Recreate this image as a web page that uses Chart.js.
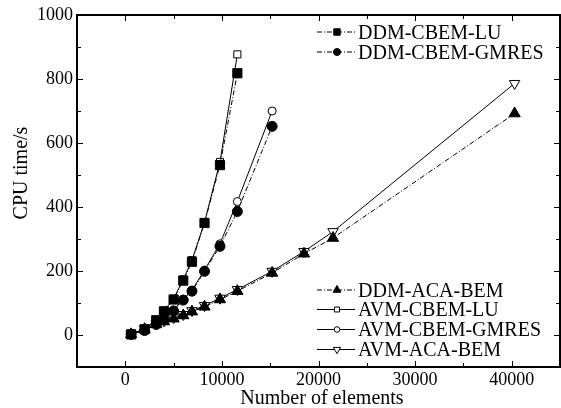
<!DOCTYPE html>
<html>
<head>
<meta charset="utf-8">
<script src="https://cdn.jsdelivr.net/npm/chart.js@4.4.1/dist/chart.umd.min.js"></script>
<style>
  html, body { margin: 0; padding: 0; background: #fff; }
</style>
</head>
<body>
<canvas id="cpuChart" width="561" height="408"></canvas>
<script>
// Number of elements (x) shared by all series
const elements = [600, 2000, 3200, 4000, 5000, 6000, 6900, 8200, 9800, 11600, 15200, 18500, 21500, 40300];

// CPU time in seconds
const ddmCbemLu    = [2, 18, 46, 74, 111, 170, 229, 350, 531, 818];
const ddmCbemGmres = [2, 14, 33, 50, 75, 109, 137, 199, 277, 386, 652];
const ddmAcaBem    = [2, 18, 33, 42, 51, 61, 73, 88, 111, 137, 194, 254, 303, 692];
const avmCbemLu    = [3, 19, 48, 76, 113, 174, 234, 352, 541, 877];
const avmCbemGmres = [2, 15, 35, 52, 78, 112, 140, 203, 285, 417, 700];
const avmAcaBem    = [3, 19, 35, 44, 54, 64, 76, 92, 115, 142, 199, 261, 323, 786];

const xTicks = [0, 10000, 20000, 30000, 40000];
const yTicks = [0, 200, 400, 600, 800, 1000];

const FONT = 'Liberation Serif, Times New Roman, serif';
const dashDot = [5, 2, 1, 2];

function toPoints(values) {
    return values.map((v, i) => ({ x: elements[i], y: v }));
}

function series(label, values, style) {
    return Object.assign({
        label: label,
        data: toPoints(values),
        showLine: true,
        borderColor: '#000',
        borderWidth: 1,
        pointBorderColor: '#000',
        pointBorderWidth: 1,
    }, style);
}

const datasets = [
    series('DDM-CBEM-LU', ddmCbemLu, { borderDash: dashDot, pointStyle: 'rect', pointRadius: 6.5, pointBackgroundColor: '#000' }),
    series('DDM-CBEM-GMRES', ddmCbemGmres, { borderDash: dashDot, pointStyle: 'circle', pointRadius: 5, pointBackgroundColor: '#000' }),
    series('DDM-ACA-BEM', ddmAcaBem, { borderDash: dashDot, pointStyle: 'triangle', pointRadius: 6.5, pointBackgroundColor: '#000' }),
    series('AVM-CBEM-LU', avmCbemLu, { pointStyle: 'rect', pointRadius: 5, pointBackgroundColor: '#fff' }),
    series('AVM-CBEM-GMRES', avmCbemGmres, { pointStyle: 'circle', pointRadius: 4, pointBackgroundColor: '#fff' }),
    series('AVM-ACA-BEM', avmAcaBem, { pointStyle: 'triangle', pointRotation: 180, pointRadius: 6, pointBackgroundColor: '#fff' }),
];

// two separate legend boxes, like the original figure
const legendGroups = [
    { x: 317, rows: [[0, 38.5], [1, 58.5]] },
    { x: 317, rows: [[2, 296.5], [3, 316], [4, 336], [5, 356]] },
];

const splitLegend = {
    id: 'splitLegend',
    afterDraw(chart) {
        const ctx = chart.ctx;
        ctx.save();
        ctx.font = '20px ' + FONT;
        ctx.textBaseline = 'alphabetic';
        ctx.textAlign = 'left';
        legendGroups.forEach(group => {
            group.rows.forEach(([idx, base]) => {
                const ds = chart.data.datasets[idx];
                const cy = base - 6.5;
                ctx.strokeStyle = '#000';
                ctx.lineWidth = 1;
                ctx.setLineDash(ds.borderDash || []);
                ctx.beginPath();
                ctx.moveTo(group.x, cy);
                ctx.lineTo(group.x + 38, cy);
                ctx.stroke();
                ctx.setLineDash([]);
                ctx.fillStyle = ds.pointBackgroundColor;
                Chart.helpers.drawPoint(ctx, {
                    pointStyle: ds.pointStyle,
                    rotation: ds.pointRotation || 0,
                    radius: ds.pointRadius * 0.7,
                    borderWidth: 1,
                }, group.x + 20, cy);
                ctx.fillStyle = '#000';
                ctx.fillText(ds.label, group.x + 41, base);
            });
        });

        // axis titles
        ctx.textAlign = 'center';
        ctx.fillText('Number of elements', 322, 404);
        ctx.translate(27, 173);
        ctx.rotate(-Math.PI / 2);
        ctx.fillText('CPU time/s', 0, 0);
        ctx.restore();
    }
};

// closed frame with inward ticks on all four sides
const frameTicks = {
    id: 'frameTicks',
    afterDatasetsDraw(chart) {
        const { ctx, chartArea: a, scales: { x, y } } = chart;
        ctx.save();
        ctx.strokeStyle = '#000';
        ctx.lineWidth = 1;
        ctx.beginPath();
        for (let v = -5000; v <= 45000; v += 5000) {
            const px = Math.round(x.getPixelForValue(v)) + 0.5;
            const len = v % 10000 === 0 ? 6 : 4;
            ctx.moveTo(px, a.bottom); ctx.lineTo(px, a.bottom - len);
            ctx.moveTo(px, a.top); ctx.lineTo(px, a.top + len);
        }
        for (let v = -100; v <= 1000; v += 100) {
            const py = Math.round(y.getPixelForValue(v)) + 0.5;
            const len = v % 200 === 0 ? 6 : 4;
            ctx.moveTo(a.left, py); ctx.lineTo(a.left + len, py);
            ctx.moveTo(a.right, py); ctx.lineTo(a.right - len, py);
        }
        ctx.stroke();
        ctx.lineWidth = 2;
        ctx.strokeRect(a.left, a.top, a.right - a.left, a.bottom - a.top);
        ctx.restore();
    }
};

const ctx = document.getElementById('cpuChart').getContext('2d');
const cpuChart = new Chart(ctx, {
    type: 'scatter',
    data: { datasets: datasets },
    options: {
        responsive: false,
        animation: false,
        events: [],
        layout: { autoPadding: false, padding: { top: 15, right: 1, left: 0, bottom: 0 } },
        plugins: {
            legend: { display: false },
            tooltip: { enabled: false },
        },
        scales: {
            x: {
                type: 'linear',
                min: -5000,
                max: 45000,
                afterBuildTicks: s => { s.ticks = xTicks.map(v => ({ value: v })); },
                afterFit: s => { s.height = 41; s.paddingLeft = 0; s.paddingRight = 0; },
                grid: { display: false, drawTicks: false },
                border: { display: false },
                ticks: { color: '#000', padding: 2, maxRotation: 0, callback: v => String(v), font: { family: FONT, size: 18 } },
            },
            y: {
                type: 'linear',
                min: -100,
                max: 1000,
                afterBuildTicks: s => { s.ticks = yTicks.map(v => ({ value: v })); },
                afterFit: s => { s.width = 77; s.paddingTop = 0; s.paddingBottom = 0; },
                grid: { display: false, drawTicks: false },
                border: { display: false },
                ticks: { color: '#000', padding: 4, callback: v => String(v), font: { family: FONT, size: 18 } },
            },
        },
    },
    plugins: [frameTicks, splitLegend],
});
</script>
</body>
</html>
